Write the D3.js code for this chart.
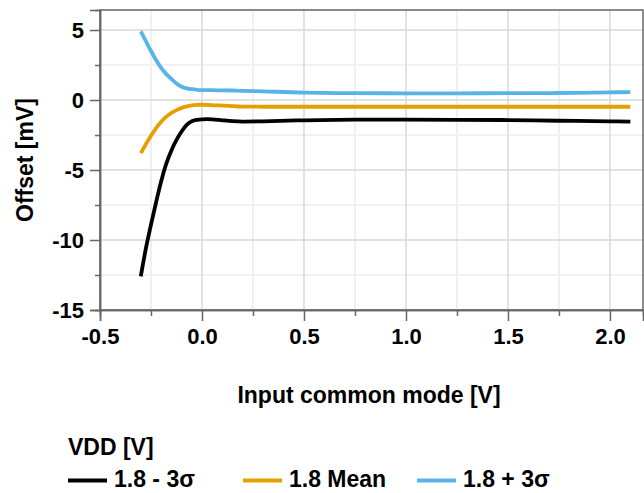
<!DOCTYPE html>
<html><head><meta charset="utf-8">
<script src="https://cdn.jsdelivr.net/npm/d3@7"></script>
<style>
body{margin:0;background:#fff;}
text{font-family:"Liberation Sans",Arial,sans-serif;font-weight:bold;fill:#000;}
</style></head>
<body><svg id="c" width="644" height="493"></svg>
<script>
const xValues = [-0.3,-0.275,-0.25,-0.225,-0.2,-0.175,-0.15,-0.125,-0.1,-0.075,-0.05,-0.025,0,0.05,0.1,0.15,0.2,0.3,0.5,0.75,1.0,1.25,1.5,1.75,2.0,2.1];
const minus3Sigma = [-12.6,-10.6,-8.9,-7.3,-5.8,-4.55,-3.6,-2.85,-2.25,-1.78,-1.52,-1.42,-1.38,-1.38,-1.45,-1.51,-1.54,-1.52,-1.45,-1.4,-1.4,-1.42,-1.43,-1.48,-1.52,-1.55];
const meanValues = [-3.8,-3.15,-2.55,-2.0,-1.55,-1.19,-0.92,-0.72,-0.56,-0.45,-0.38,-0.35,-0.34,-0.36,-0.4,-0.44,-0.47,-0.48,-0.48,-0.48,-0.48,-0.48,-0.48,-0.48,-0.48,-0.48];
const plus3Sigma = [4.9,4.2,3.5,2.86,2.3,1.85,1.5,1.18,0.95,0.83,0.77,0.73,0.71,0.7,0.69,0.68,0.66,0.62,0.53,0.49,0.48,0.48,0.49,0.5,0.55,0.57];
const seriesNames = ["1.8 - 3\u03c3","1.8 Mean","1.8 + 3\u03c3"];
const seriesColors = ["#000000","#E69F00","#56B4E9"];
const xMajorTicks = [-0.5,0,0.5,1.0,1.5,2.0];
const xMinorTicks = [-0.25,0.25,0.75,1.25,1.75];
const yMajorTicks = [-15,-10,-5,0,5];
const yMinorTicks = [-12.5,-7.5,-2.5,2.5];
const xTitle = "Input common mode [V]";
const yTitle = "Offset [mV]";
const legendTitle = "VDD [V]";

const svg = d3.select("#c");
const L=100,R=643,T=10,B=310;
const x = d3.scaleLinear().domain([-0.5,2.162]).range([L,R]);
const y = d3.scaleLinear().domain([-15,6.43]).range([B,T]);

const g = svg.append("g");
g.selectAll(".vmin").data(xMinorTicks).join("line")
 .attr("x1",d=>x(d)).attr("x2",d=>x(d)).attr("y1",T).attr("y2",B)
 .attr("stroke","#ececec").attr("stroke-width",1.5);
g.selectAll(".hmin").data(yMinorTicks).join("line")
 .attr("y1",d=>y(d)).attr("y2",d=>y(d)).attr("x1",L).attr("x2",R)
 .attr("stroke","#ececec").attr("stroke-width",1.5);
g.selectAll(".vmaj").data(xMajorTicks).join("line")
 .attr("x1",d=>x(d)).attr("x2",d=>x(d)).attr("y1",T).attr("y2",B)
 .attr("stroke","#d9d9d9").attr("stroke-width",1.5);
g.selectAll(".hmaj").data(yMajorTicks).join("line")
 .attr("y1",d=>y(d)).attr("y2",d=>y(d)).attr("x1",L).attr("x2",R)
 .attr("stroke","#d9d9d9").attr("stroke-width",1.5);

const all = [minus3Sigma,meanValues,plus3Sigma];
const line = d3.line().x((d,i)=>x(xValues[i])).y(d=>y(d)).curve(d3.curveCatmullRom.alpha(0.5));
all.forEach((s,k)=>{
  svg.append("path").datum(s).attr("d",line).attr("fill","none")
   .attr("stroke",seriesColors[k]).attr("stroke-width",3.8).attr("stroke-linejoin","round");
});

svg.append("rect").attr("x",L).attr("y",T).attr("width",R-L).attr("height",B-T)
 .attr("fill","none").attr("stroke","#666").attr("stroke-width",1.5);

const hy = s => s.replace("\u2212","-");
const fmtX = d => hy(d3.format(".1f")(d));
const fmtY = d => hy(d3.format("d")(d));
const xa = svg.append("g").attr("transform",`translate(0,${B})`)
 .call(d3.axisBottom(x).tickValues(xMajorTicks).tickFormat(fmtX).tickSize(11).tickPadding(7));
const xm = svg.append("g").attr("transform",`translate(0,${B})`)
 .call(d3.axisBottom(x).tickValues(xMinorTicks).tickFormat("").tickSize(6));
const ya = svg.append("g").attr("transform",`translate(${L},0)`)
 .call(d3.axisLeft(y).tickValues(yMajorTicks).tickFormat(fmtY).tickSize(10).tickPadding(6));
const ym = svg.append("g").attr("transform",`translate(${L},0)`)
 .call(d3.axisLeft(y).tickValues(yMinorTicks).tickFormat("").tickSize(5));
[xa,xm,ya,ym].forEach(a=>{
  a.select(".domain").attr("stroke","#666").attr("stroke-width",1.5);
  a.selectAll(".tick line").attr("stroke","#666").attr("stroke-width",1.5);
  a.selectAll(".tick text").attr("font-size",22).attr("font-family","Liberation Sans, Arial, sans-serif").attr("font-weight","bold").attr("fill","#000");
});
ya.selectAll(".tick text").attr("dy","0.36em");

svg.append("text").attr("x",369).attr("y",403).attr("text-anchor","middle").attr("font-size",23).text(xTitle);
svg.append("text").attr("transform","translate(33,160) rotate(-90)").attr("text-anchor","middle").attr("font-size",23).text(yTitle);

svg.append("text").attr("x",68).attr("y",455).attr("font-size",23).text(legendTitle);
const legX = [68,243,417];
seriesNames.forEach((n,k)=>{
  svg.append("line").attr("x1",legX[k]).attr("x2",legX[k]+39).attr("y1",480.5).attr("y2",480.5)
   .attr("stroke",seriesColors[k]).attr("stroke-width",3.8);
  svg.append("text").attr("x",legX[k]+46).attr("y",487).attr("font-size",23).text(n);
});
</script></body></html>
